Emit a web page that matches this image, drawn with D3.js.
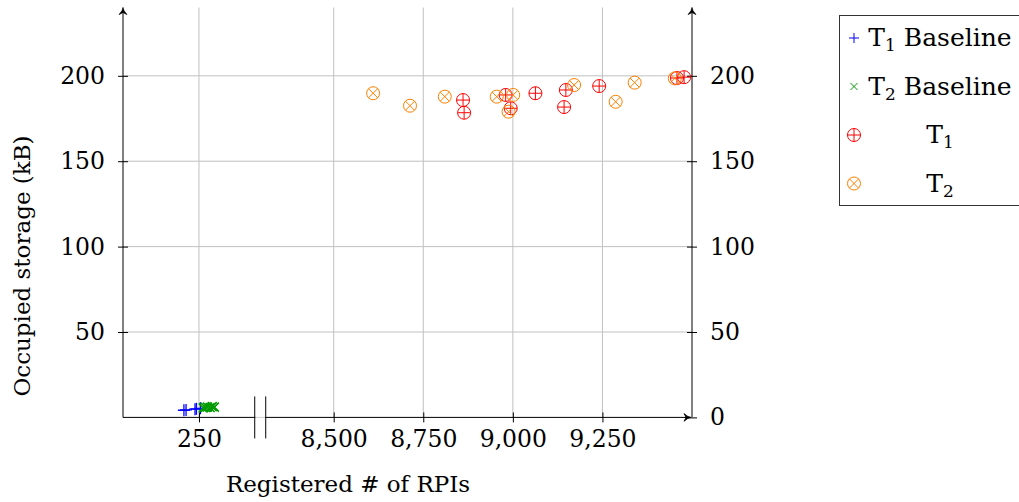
<!DOCTYPE html>
<html>
<head>
<meta charset="utf-8">
<script src="https://cdn.jsdelivr.net/npm/d3@7"></script>
<style>
  body { margin: 0; background: #fff; }
  text { font-family: "DejaVu Serif", serif; fill: #000; }
</style>
</head>
<body>
<div id="chart"></div>
<script>
// Occupied storage vs registered RPIs (broken x axis)

// data
const t1BaseX = [208, 214, 239, 243, 254]
const t1BaseY = [4.2, 4.4, 4.8, 5.0, 5.3]
const t2BaseX = [262, 268, 274, 281, 287, 293]
const t2BaseY = [5.6, 5.9, 6.1, 5.8, 6.3, 6.0]
const t1X = [8861, 8864, 8980, 8994, 9063, 9148, 9143, 9241, 9458, 9478]
const t1Y = [185.8, 178.4, 188.8, 181.0, 189.8, 191.7, 181.7, 194.0, 198.7, 199.2]
const t2X = [8610, 8713, 8810, 8955, 9001, 8988, 9171, 9287, 9340, 9452]
const t2Y = [189.8, 182.5, 187.8, 187.8, 188.8, 179.0, 194.6, 184.8, 196.0, 198.5]
const xTicks = [250, 8500, 8750, 9000, 9250]
const yTicksLeft = [50, 100, 150, 200]
const yTicksRight = [0, 50, 100, 150, 200]
const legendLabels = [["T", "1", " Baseline"], ["T", "2", " Baseline"], ["T", "1", ""], ["T", "2", ""]]

// values above the break are shifted left
const breakOffset = 7874
const compress = v => v > 5000 ? v - breakOffset : v

const width = 1019, height = 502
const svg = d3.select("#chart").append("svg")
    .attr("width", width)
    .attr("height", height)

const x = d3.scaleLinear().domain([38, 9500 - breakOffset]).range([123, 692])
const y = d3.scaleLinear().domain([0, 240]).range([417.4, 7.5])

const grid = "#c0c0c0"
const fontSize = "23.5px"
const font = "DejaVu Serif"

// grid
svg.append("g").selectAll("line").data(xTicks).enter().append("line")
    .attr("x1", d => x(compress(d))).attr("x2", d => x(compress(d)))
    .attr("y1", y(0)).attr("y2", y(240))
    .attr("stroke", grid).attr("stroke-width", 1)
svg.append("g").selectAll("line").data(yTicksLeft).enter().append("line")
    .attr("x1", x.range()[0]).attr("x2", x.range()[1])
    .attr("y1", d => y(d)).attr("y2", d => y(d))
    .attr("stroke", grid).attr("stroke-width", 1)

// axes
let axisX = d3.axisBottom(x)
    .tickValues(xTicks.map(compress))
    .tickSize(6).tickSizeOuter(0)
    .tickFormat((d, i) => d3.format(",")(xTicks[i]))
let gx = svg.append("g").attr("transform", `translate(0,${y(0)})`).call(axisX)

let axisL = d3.axisLeft(y).tickValues(yTicksLeft).tickSize(6).tickSizeOuter(0).tickPadding(12)
let gl = svg.append("g").attr("transform", `translate(${x.range()[0]},0)`).call(axisL)

let axisR = d3.axisRight(y).tickValues(yTicksRight).tickSize(6).tickSizeOuter(0).tickPadding(12)
let gr = svg.append("g").attr("transform", `translate(${x.range()[1]},0)`).call(axisR)

for (let g of [gx, gl, gr]) {
  g.select(".domain").remove()
  g.selectAll("line").attr("stroke", "#000").attr("stroke-width", 1)
  g.selectAll("text").style("font-family", font).style("font-size", fontSize)
}
gx.selectAll("line").attr("y1", -5).attr("y2", 5)
gx.selectAll("text").attr("y", 13)
gl.selectAll("line").attr("x1", -5).attr("x2", 5)
gr.selectAll("line").attr("x1", -5).attr("x2", 5)

// axis lines with arrow heads
let arrow = (px, py, dir) => {
  let s = 7
  let p = dir === "up"
    ? `M${px - s * 0.55},${py + s} Q${px},${py + s * 0.4} ${px},${py} Q${px},${py + s * 0.4} ${px + s * 0.55},${py + s} L${px},${py + s * 0.7}Z`
    : `M${px - s},${py - s * 0.55} Q${px - s * 0.4},${py} ${px},${py} Q${px - s * 0.4},${py} ${px - s},${py + s * 0.55} L${px - s * 0.7},${py}Z`
  svg.append("path").attr("d", p).attr("fill", "#000").attr("stroke", "#000").attr("stroke-width", 0.8)
}
svg.append("line").attr("x1", x.range()[0]).attr("x2", x.range()[1] - 2)
    .attr("y1", y(0)).attr("y2", y(0)).attr("stroke", "#000")
svg.append("line").attr("x1", x.range()[0]).attr("x2", x.range()[0])
    .attr("y1", y(0)).attr("y2", y(240) + 2).attr("stroke", "#000")
svg.append("line").attr("x1", x.range()[1]).attr("x2", x.range()[1])
    .attr("y1", y(0)).attr("y2", y(240) + 2).attr("stroke", "#000")
arrow(x.range()[0], y(240), "up")
arrow(x.range()[1], y(240), "up")
arrow(x.range()[1] - 1, y(0), "right")

// axis break
let breakX = x(421)
svg.append("rect").attr("x", breakX - 5).attr("y", y(0) - 3).attr("width", 10).attr("height", 6)
    .attr("fill", "#fff").attr("opacity", 0.8)
for (let dx of [-5.5, 5.5]) {
  svg.append("line").attr("x1", breakX + dx).attr("x2", breakX + dx)
      .attr("y1", y(0) - 21).attr("y2", y(0) + 21).attr("stroke", "#000")
}

// axis titles
svg.append("text").attr("x", 348).attr("y", 492).attr("text-anchor", "middle")
    .style("font-size", "23px").text("Registered # of RPIs")
svg.append("text").attr("transform", "translate(30,266) rotate(-90)").attr("text-anchor", "middle")
    .style("font-size", "23px").text("Occupied storage (kB)")

// markers
let plus = (g, s, c, w = 1) => g.append("path").attr("d", `M${-s},0H${s}M0,${-s}V${s}`)
    .attr("stroke", c).attr("stroke-width", w).attr("fill", "none")
let cross = (g, s, c, w = 1) => g.append("path").attr("d", `M${-s},${-s}L${s},${s}M${-s},${s}L${s},${-s}`)
    .attr("stroke", c).attr("stroke-width", w).attr("fill", "none")
let oplus = (g, r, c) => {
  g.append("circle").attr("r", r).attr("fill", "none").attr("stroke", c)
  plus(g, r, c)
}
let otimes = (g, r, c) => {
  g.append("circle").attr("r", r).attr("fill", "none").attr("stroke", c)
  cross(g, r * 0.707, c)
}

let series = [
  { xs: t1BaseX, ys: t1BaseY, color: "#0000ff", draw: (g, c) => plus(g, 6, c, 1.3) },
  { xs: t2BaseX, ys: t2BaseY, color: "#009a00", draw: (g, c) => cross(g, 4.5, c, 1.6) },
  { xs: t1X, ys: t1Y, color: "#ff0000", draw: (g, c) => oplus(g, 6.5, c) },
  { xs: t2X, ys: t2Y, color: "#ff8000", draw: (g, c) => otimes(g, 6.5, c) }
]
series.forEach(s => {
  svg.append("g").selectAll("g").data(s.xs).enter().append("g")
      .attr("transform", (d, i) => `translate(${x(compress(d))},${y(s.ys[i])})`)
      .each(function () { s.draw(d3.select(this), s.color) })
})

// legend
let legend = svg.append("g")
legend.append("rect").attr("x", 839.5).attr("y", 15.5).attr("width", 200).attr("height", 190)
    .attr("fill", "#fff").attr("stroke", "#333")
let legendMarks = [
  (g, c) => plus(g, 5, c), (g, c) => cross(g, 3.5, c),
  (g, c) => oplus(g, 6.5, c), (g, c) => otimes(g, 6.5, c)
]
legendLabels.forEach((l, i) => {
  let cy = 38 + i * 48.5
  let g = legend.append("g").attr("transform", `translate(854,${cy})`)
  legendMarks[i](g, series[i].color)
  let t = legend.append("text").attr("x", 940).attr("y", cy + 8).attr("text-anchor", "middle")
      .style("font-size", "25px")
  t.append("tspan").text(l[0])
  t.append("tspan").attr("dy", 5).style("font-size", "17px").text(l[1])
  t.append("tspan").attr("dy", -5).text(l[2])
})
</script>
</body>
</html>
